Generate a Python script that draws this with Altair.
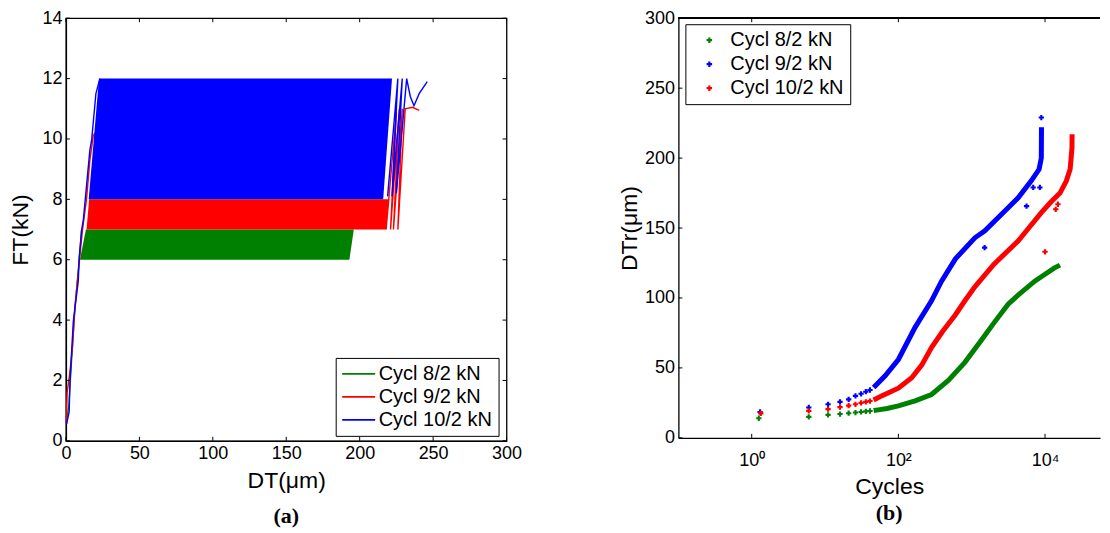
import altair as alt
import pandas as pd

FONT = "Liberation Sans"
SERIES = ["Cycl 8/2 kN", "Cycl 9/2 kN", "Cycl 10/2 kN"]
COLORS_A = ["#008000", "#ff0000", "#0000ff"]   # panel (a): 8/2 green, 9/2 red, 10/2 blue
COLORS_B = ["#008000", "#0000ff", "#ff0000"]   # panel (b): 8/2 green, 9/2 blue, 10/2 red

# ---------------- panel (a): FT vs DT hysteresis bands ----------------
X_TICKS_A = [0, 50, 100, 150, 200, 250, 300]
Y_TICKS_A = [0, 2, 4, 6, 8, 10, 12, 14]

# filled band of cycles: FT level, left DT edge, right DT edge
GREEN_BAND_FT = [6.0, 7.0]
GREEN_BAND_L = [9.5, 13.6]
GREEN_BAND_R = [193.0, 196.0]
RED_BAND_FT = [7.0, 8.0]
RED_BAND_L = [14.0, 15.8]
RED_BAND_R = [218.0, 220.0]
BLUE_BAND_FT = [8.0, 12.0]
BLUE_BAND_L = [15.5, 22.5]
BLUE_BAND_R = [216.0, 222.0]

# first loading curves
GREEN_LOAD_DT = [0.3, 2.0, 4.0, 6.0, 9.0, 10.7]
GREEN_LOAD_FT = [0.6, 1.2, 2.8, 4.3, 6.0, 7.0]
RED_LOAD_DT = [0.2, 0.8, 2.5, 4.3, 6.2, 9.4, 11.3, 14.0, 16.3, 18.6, 19.7]
RED_LOAD_FT = [0.6, 1.6, 2.2, 3.0, 4.5, 6.1, 7.0, 8.0, 9.3, 10.1, 10.2]
BLUE_LOAD_DT = [0.5, 2.2, 2.7, 5.0, 8.4, 9.0, 10.7, 11.8, 16.3, 17.5, 20.4, 23.1]
BLUE_LOAD_FT = [0.56, 0.97, 1.92, 3.95, 5.3, 6.05, 7.0, 7.3, 9.64, 9.97, 11.5, 12.0]

# last cycles leaving the band
RED_TAIL_DT = [218, 225, 221, 227, 223, 229, 226, 231, 236, 240.5]
RED_TAIL_FT = [7.0, 10.9, 7.0, 11.0, 7.0, 11.0, 7.0, 11.0, 11.05, 10.95]
BLUE_TAIL_DT = [219, 226, 222, 229, 225, 232, 234.5, 237, 240.5, 246]
BLUE_TAIL_FT = [8.1, 12.0, 8.1, 12.0, 8.2, 12.0, 11.4, 11.1, 11.5, 11.9]

# ---------------- panel (b): DTr vs cycles ----------------
X_TICKS_B = [1, 100, 10000]
Y_TICKS_B = [0, 50, 100, 150, 200, 250, 300]

GREEN_SPARSE_N = [1.25, 6, 11, 16, 21, 26, 31, 36, 41]
GREEN_SPARSE_D = [14.0, 15.0, 16.4, 17.0, 17.6, 18.1, 18.5, 18.9, 19.2]
BLUE_SPARSE_N = [1.3, 6, 11, 16, 21, 26, 31, 36, 41]
BLUE_SPARSE_D = [18.5, 21.7, 24.0, 25.7, 27.5, 30.0, 31.5, 33.0, 34.2]
RED_SPARSE_N = [1.33, 6, 11, 16, 21, 26, 31, 36, 41]
RED_SPARSE_D = [17.5, 19.3, 20.5, 22.0, 23.0, 24.0, 25.0, 25.7, 26.3]

GREEN_CURVE_N = [46, 53, 70, 100, 169, 283, 480, 807, 1360, 2000, 3140, 4290, 7240, 10000, 13500, 16000]
GREEN_CURVE_D = [19.5, 20.0, 21.0, 22.9, 26.4, 31.0, 41.0, 54.0, 70.0, 82.0, 95.5, 102.0, 112.0, 117.0, 121.5, 123.5]
BLUE_CURVE_N = [46, 66, 100, 169, 283, 388, 600, 1105, 1510, 3140, 4300, 6450, 8300, 8900, 8950]
BLUE_CURVE_D = [36.0, 44.3, 56.0, 79.0, 98.0, 112.0, 128.0, 143.0, 148.0, 164.5, 171.6, 183.6, 192.0, 200.0, 222.0]
RED_CURVE_N = [46, 59, 100, 152, 208, 283, 400, 600, 807, 1105, 2000, 4290, 6000, 8900, 12200, 16000, 19500, 22000, 23300, 23400]
RED_CURVE_D = [27.0, 30.0, 35.5, 43.0, 52.0, 64.5, 76.0, 88.0, 98.0, 108.0, 124.0, 140.7, 150.0, 161.0, 169.0, 175.0, 183.6, 192.0, 207.0, 217.0]

BLUE_OUT_N = [8900, 8500, 6900, 5600, 1500]
BLUE_OUT_D = [229.0, 179.0, 179.0, 165.7, 136.0]
RED_OUT_N = [15000, 14000, 10000]
RED_OUT_D = [167.0, 163.4, 133.0]

W_A, H_A = 441, 423
W_B, H_B = 422, 420

# ---------------- build panel (a) ----------------
xa = alt.Scale(domain=[0, 300], nice=False)
ya = alt.Scale(domain=[0, 14], nice=False)
color_a = alt.Scale(domain=SERIES, range=COLORS_A)
ax_xa = alt.Axis(values=X_TICKS_A, title="DT(μm)", titlePadding=7)
ax_ya = alt.Axis(values=Y_TICKS_A, title="FT(kN)", titlePadding=9)
legend_a = alt.Legend(
    title=None, orient="none", legendX=270, legendY=340,
    strokeColor="black", fillColor="white", padding=6, rowPadding=3,
    symbolType="M-3,0L3,0", symbolSize=121, symbolStrokeWidth=1.6, symbolOffset=7,
    labelFont=FONT, labelFontSize=20, labelColor="black", labelOffset=10,
)


def band(series, ft, left, right, color):
    df = pd.DataFrame({"ft": ft, "dt": left, "dt2": right})
    return alt.Chart(df).mark_area(orient="horizontal", color=color).encode(
        y=alt.Y("ft:Q", scale=ya, axis=ax_ya),
        x=alt.X("dt:Q", scale=xa, axis=ax_xa),
        x2="dt2:Q",
    )


def lines(series, parts):
    rows = []
    for seg, (dts, fts) in enumerate(parts):
        for i, (d, f) in enumerate(zip(dts, fts)):
            rows.append({"series": series, "seg": seg, "i": i, "dt": d, "ft": f})
    df = pd.DataFrame(rows)
    return alt.Chart(df).mark_line(strokeWidth=1.4).encode(
        x=alt.X("dt:Q", scale=xa, axis=ax_xa),
        y=alt.Y("ft:Q", scale=ya, axis=ax_ya),
        order="i:Q",
        detail="seg:N",
        color=alt.Color("series:N", scale=color_a, legend=legend_a),
    )


tick_xa = pd.DataFrame({"v": X_TICKS_A})
tick_ya = pd.DataFrame({"v": Y_TICKS_A})
ticks_a = [
    alt.Chart(tick_xa).mark_rule(color="black", strokeWidth=1).encode(
        x=alt.X("v:Q", scale=xa, axis=ax_xa), y=alt.value(H_A), y2=alt.value(H_A - 4)),
    alt.Chart(tick_xa).mark_rule(color="black", strokeWidth=1).encode(
        x=alt.X("v:Q", scale=xa, axis=ax_xa), y=alt.value(0), y2=alt.value(4)),
    alt.Chart(tick_ya).mark_rule(color="black", strokeWidth=1).encode(
        y=alt.Y("v:Q", scale=ya, axis=ax_ya), x=alt.value(0), x2=alt.value(4)),
    alt.Chart(tick_ya).mark_rule(color="black", strokeWidth=1).encode(
        y=alt.Y("v:Q", scale=ya, axis=ax_ya), x=alt.value(W_A), x2=alt.value(W_A - 4)),
]

chart_a = alt.layer(
    band(SERIES[0], GREEN_BAND_FT, GREEN_BAND_L, GREEN_BAND_R, COLORS_A[0]),
    lines(SERIES[0], [(GREEN_LOAD_DT, GREEN_LOAD_FT)]),
    band(SERIES[1], RED_BAND_FT, RED_BAND_L, RED_BAND_R, COLORS_A[1]),
    lines(SERIES[1], [(RED_LOAD_DT, RED_LOAD_FT), (RED_TAIL_DT, RED_TAIL_FT)]),
    band(SERIES[2], BLUE_BAND_FT, BLUE_BAND_L, BLUE_BAND_R, COLORS_A[2]),
    lines(SERIES[2], [(BLUE_LOAD_DT, BLUE_LOAD_FT), (BLUE_TAIL_DT, BLUE_TAIL_FT)]),
    *ticks_a,
).properties(
    width=W_A, height=H_A,
    view=alt.ViewBackground(stroke="black", strokeWidth=1.3),
    title=alt.TitleParams("(a)", orient="bottom", font="Liberation Serif", fontSize=22,
                          fontWeight="bold", color="black", offset=13),
)

# ---------------- build panel (b) ----------------
xb = alt.Scale(type="log", domain=[0.1, 56200], nice=False)
yb = alt.Scale(domain=[0, 300], nice=False)
color_b = alt.Scale(domain=SERIES, range=COLORS_B)
ax_xb = alt.Axis(values=X_TICKS_B, title="Cycles", titlePadding=6, labelPadding=14,
                 labelExpr="datum.value == 1 ? '10⁰' : datum.value == 100 ? '10²' : '10⁴'")
ax_yb = alt.Axis(values=Y_TICKS_B, title="DTr(μm)", titlePadding=3)
legend_b = alt.Legend(
    title=None, orient="none", legendX=7, legendY=6,
    strokeColor="black", fillColor="white", padding=6, rowPadding=4,
    symbolType="cross", symbolSize=30, symbolOffset=8, symbolStrokeWidth=0,
    labelFont=FONT, labelFontSize=20, labelColor="black", labelOffset=11,
)

pts_rows = []
for s, ns, ds in [(SERIES[0], GREEN_SPARSE_N, GREEN_SPARSE_D),
                  (SERIES[1], BLUE_SPARSE_N, BLUE_SPARSE_D),
                  (SERIES[2], RED_SPARSE_N, RED_SPARSE_D),
                  (SERIES[1], BLUE_OUT_N, BLUE_OUT_D),
                  (SERIES[2], RED_OUT_N, RED_OUT_D)]:
    for n, d in zip(ns, ds):
        pts_rows.append({"series": s, "n": n, "d": d})
pts_df = pd.DataFrame(pts_rows)


def curve(ns, ds, color):
    df = pd.DataFrame({"n": ns, "d": ds, "i": list(range(len(ns)))})
    return alt.Chart(df).mark_line(color=color, strokeWidth=5).encode(
        x=alt.X("n:Q", scale=xb, axis=ax_xb),
        y=alt.Y("d:Q", scale=yb, axis=ax_yb),
        order="i:Q",
    )


points_b = alt.Chart(pts_df).mark_point(shape="cross", filled=True, size=28, opacity=1).encode(
    x=alt.X("n:Q", scale=xb, axis=ax_xb),
    y=alt.Y("d:Q", scale=yb, axis=ax_yb),
    color=alt.Color("series:N", scale=color_b, legend=legend_b),
)

tick_xb = pd.DataFrame({"v": X_TICKS_B})
tick_yb = pd.DataFrame({"v": Y_TICKS_B})
ticks_b = [
    alt.Chart(tick_xb).mark_rule(color="black", strokeWidth=1).encode(
        x=alt.X("v:Q", scale=xb, axis=ax_xb), y=alt.value(H_B), y2=alt.value(H_B - 4)),
    alt.Chart(tick_xb).mark_rule(color="black", strokeWidth=1).encode(
        x=alt.X("v:Q", scale=xb, axis=ax_xb), y=alt.value(0), y2=alt.value(4)),
    alt.Chart(tick_yb).mark_rule(color="black", strokeWidth=1).encode(
        y=alt.Y("v:Q", scale=yb, axis=ax_yb), x=alt.value(0), x2=alt.value(4)),
    alt.Chart(tick_yb).mark_rule(color="black", strokeWidth=1.3).encode(
        y=alt.value(0), x=alt.value(0), x2=alt.value(W_B)),
]

chart_b = alt.layer(
    curve(GREEN_CURVE_N, GREEN_CURVE_D, COLORS_B[0]),
    curve(BLUE_CURVE_N, BLUE_CURVE_D, COLORS_B[1]),
    curve(RED_CURVE_N, RED_CURVE_D, COLORS_B[2]),
    points_b,
    *ticks_b,
).properties(
    width=W_B, height=H_B,
    view=alt.ViewBackground(stroke="transparent"),
    title=alt.TitleParams("(b)", orient="bottom", font="Liberation Serif", fontSize=22,
                          fontWeight="bold", color="black", offset=4),
)

chart = alt.hconcat(chart_a, chart_b, spacing=95).resolve_scale(
    color="independent"
).resolve_legend(color="independent").properties(
    padding={"left": 1, "top": 0, "right": 0, "bottom": 0},
).configure_axis(
    labelFont=FONT, labelFontSize=18, labelColor="black", labelPadding=4,
    titleFont=FONT, titleFontSize=23, titleFontWeight="normal", titleColor="black",
    domainColor="black", domainWidth=1.3, ticks=False, grid=False,
    labelOverlap=False, labelFlush=False,
).configure_view(stroke="black")

chart.save("out.html", embed_options={"renderer": "svg", "actions": False})
